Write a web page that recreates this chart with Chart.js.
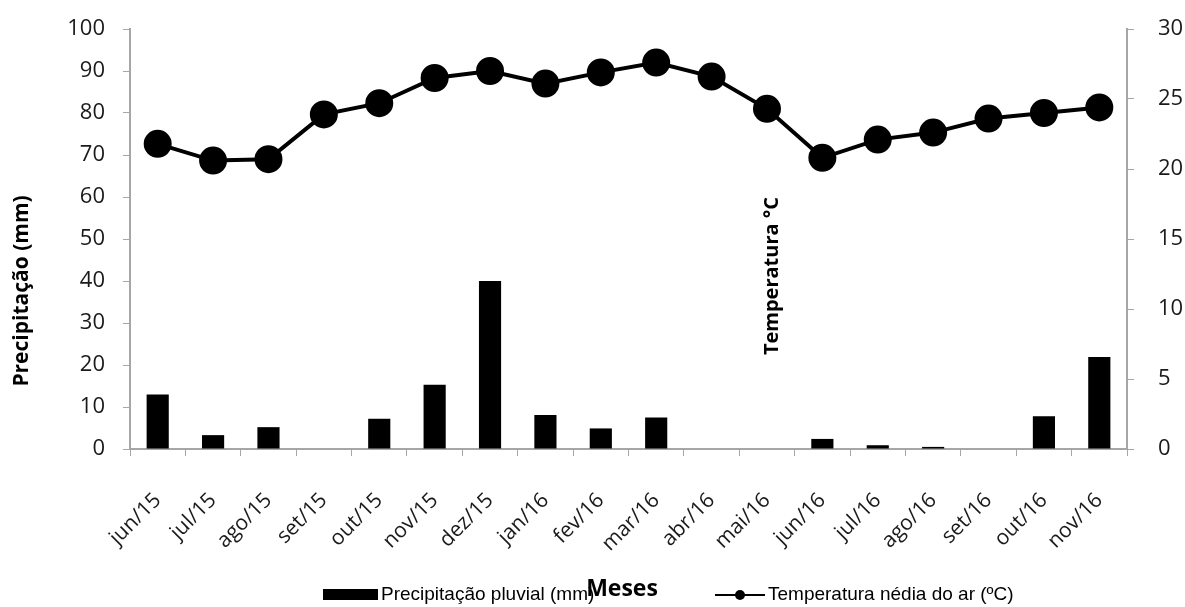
<!DOCTYPE html>
<html>
<head>
<meta charset="utf-8">
<script src="https://cdn.jsdelivr.net/npm/chart.js@4.4.1/dist/chart.umd.min.js"></script>
<style>
  html, body { margin: 0; padding: 0; background: #fff; }
  #wrap { width: 1185px; height: 607px; position: relative; }
</style>
</head>
<body>
<div id="wrap"><canvas id="climaChart"></canvas></div>
<script>
// dados
const meses = ['jun/15', 'jul/15', 'ago/15', 'set/15', 'out/15', 'nov/15', 'dez/15', 'jan/16', 'fev/16',
    'mar/16', 'abr/16', 'mai/16', 'jun/16', 'jul/16', 'ago/16', 'set/16', 'out/16', 'nov/16'];
const precipitacao = [13, 3.3, 5.2, 0, 7.2, 15.3, 40, 8.1, 4.9, 7.5, 0, 0, 2.4, 0.9, 0.5, 0, 7.8, 21.9];
const temperatura = [21.8, 20.6, 20.7, 23.9, 24.7, 26.5, 27.0, 26.1, 26.9, 27.6, 26.6, 24.3, 20.8, 22.1, 22.6, 23.6, 24.0, 24.4];

const FONT = 'Open Sans, DejaVu Sans, sans-serif';
const eixoCor = '#a6a6a6';
const textoCor = '#1a1a1a';

// titulos e legenda desenhados a mao
const textos = {
    id: 'textos',
    afterDraw(chart) {
        const ctx = chart.ctx;
        ctx.save();
        ctx.fillStyle = '#000';
        ctx.font = 'bold 21px ' + FONT;
        ctx.textAlign = 'center';
        ctx.textBaseline = 'middle';

        ctx.save();
        ctx.translate(22, 291);
        ctx.rotate(-Math.PI / 2);
        ctx.fillText('Precipitação (mm)', 0, 0);
        ctx.restore();

        ctx.font = 'bold 20px ' + FONT;
        ctx.save();
        ctx.translate(772, 276);
        ctx.rotate(-Math.PI / 2);
        ctx.fillText('Temperatura °C', 0, 0);
        ctx.restore();

        // legenda
        ctx.fillRect(323, 589, 55, 11);
        ctx.font = '19px Liberation Sans, Arial, sans-serif';
        ctx.textAlign = 'left';
        ctx.fillText('Precipitação pluvial (mm)', 381, 595, 285);

        ctx.lineWidth = 2;
        ctx.strokeStyle = '#000';
        ctx.beginPath();
        ctx.moveTo(715, 595);
        ctx.lineTo(765, 595);
        ctx.stroke();
        ctx.beginPath();
        ctx.arc(740, 595, 5, 0, Math.PI * 2);
        ctx.fill();
        ctx.fillText('Temperatura nédia do ar (ºC)', 768, 595, 287);

        ctx.font = 'bold 23px ' + FONT;
        ctx.textAlign = 'center';
        ctx.fillText('Meses', 622, 589);
        ctx.restore();
    }
};

const ctx = document.getElementById('climaChart').getContext('2d');
const climaChart = new Chart(ctx, {
    data: {
        labels: meses,
        datasets: [{
            type: 'line',
            label: 'Temperatura nédia do ar (ºC)',
            data: temperatura,
            yAxisID: 'yTemp',
            borderColor: '#000',
            backgroundColor: '#000',
            borderWidth: 4,
            pointRadius: 12,
            pointHoverRadius: 12,
            tension: 0,
            order: 0
        }, {
            type: 'bar',
            label: 'Precipitação pluvial (mm)',
            data: precipitacao,
            yAxisID: 'yPrec',
            backgroundColor: '#000',
            barPercentage: 0.4,
            categoryPercentage: 1,
            order: 1
        }]
    },
    options: {
        animation: false,
        responsive: true,
        maintainAspectRatio: false,
        layout: { padding: { top: 29, right: 0, left: 0, bottom: 0 } },
        plugins: {
            legend: { display: false },
            tooltip: { enabled: false }
        },
        scales: {
            x: {
                offset: true,
                grid: { offset: true, drawOnChartArea: false, color: eixoCor, tickLength: 7 },
                border: { color: eixoCor, width: 2 },
                ticks: {
                    color: textoCor,
                    font: { family: FONT, size: 21 },
                    minRotation: 45,
                    maxRotation: 45,
                    autoSkip: false,
                    padding: 32
                },
                afterFit(axis) { axis.height = 158; }
            },
            yPrec: {
                position: 'left',
                min: 0,
                max: 100,
                ticks: { stepSize: 10, color: textoCor, font: { family: FONT, size: 22 }, padding: 18 },
                grid: { drawOnChartArea: false, color: eixoCor, tickLength: 7 },
                border: { color: eixoCor, width: 2 },
                afterFit(axis) { axis.width = 130; axis.paddingTop = 0; axis.paddingBottom = 0; }
            },
            yTemp: {
                position: 'right',
                min: 0,
                max: 30,
                ticks: { stepSize: 5, color: textoCor, font: { family: FONT, size: 22 }, padding: 24 },
                grid: { drawOnChartArea: false, color: eixoCor, tickLength: 7 },
                border: { color: eixoCor, width: 2 },
                afterFit(axis) { axis.width = 58; axis.paddingTop = 0; axis.paddingBottom = 0; }
            }
        }
    },
    plugins: [textos]
});
</script>
</body>
</html>
